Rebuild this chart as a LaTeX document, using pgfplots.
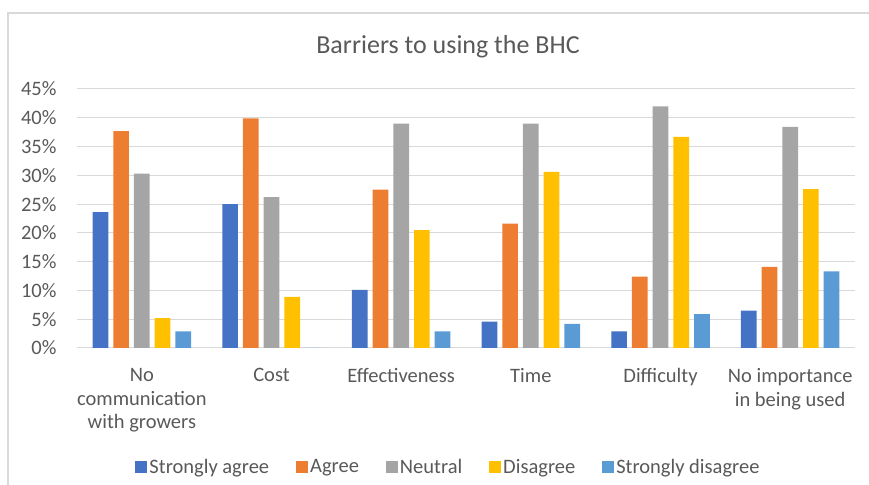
\documentclass[border=0pt]{standalone}
\usepackage{pgfplots}
\pgfplotsset{compat=1.18}
\usepackage{fontspec}
\setmainfont{Carlito}

\definecolor{sagree}{HTML}{4472C4}
\definecolor{agree}{HTML}{ED7D31}
\definecolor{neutral}{HTML}{A5A5A5}
\definecolor{disagree}{HTML}{FFC000}
\definecolor{sdisagree}{HTML}{5B9BD5}
\definecolor{txt}{HTML}{595959}
\definecolor{gridc}{HTML}{D9D9D9}

\begin{document}
\begin{tikzpicture}[x=1bp,y=1bp]
\useasboundingbox (0,0) rectangle (869,485);
\draw[gridc, line width=1.2bp] (8,-2) -- (8,472) -- (871,472);
\node[font=\fontsize{26bp}{30bp}\selectfont, text=txt] at (448,438) {Barriers to using the BHC};

\begin{axis}[
  at={(77bp,137bp)}, anchor=south west,
  width=778bp, height=259bp, scale only axis,
  xmin=-0.5, xmax=5.5, ymin=0, ymax=45,
  ybar=5bp, bar width=15.7bp,
  axis x line*=bottom, axis y line*=left,
  x axis line style={-, draw=gridc, line width=1bp},
  y axis line style={draw=none},
  ymajorgrids, grid style={draw=gridc, line width=1bp},
  major tick length=0pt,
  ytick={0,5,...,45},
  yticklabels={0\%,5\%,10\%,15\%,20\%,25\%,30\%,35\%,40\%,45\%},
  xtick={0,1,2,3,4,5},
  xticklabels={{No\\communication\\with growers},{Cost},{Effectiveness},{Time},{Difficulty},{No importance\\in being used}},
  tick label style={font=\fontsize{20.5bp}{23.5bp}\selectfont, text=txt},
  xticklabel style={align=center, yshift=-17bp},
  yticklabel style={xshift=-17bp},
  legend style={at={(0.4775,-0.4595)}, anchor=center, draw=none,
    font=\fontsize{20.5bp}{24bp}\selectfont, text=txt,
    /tikz/every even column/.append style={column sep=25bp}},
  legend columns=5,
  legend image code/.code={\fill[#1] (0bp,-6bp) rectangle (12bp,6bp);},
]
\addplot[fill=sagree, draw=none] coordinates {(0,23.6) (1,25.0) (2,10.1) (3,4.6) (4,2.9) (5,6.5)};
\addplot[fill=agree, draw=none] coordinates {(0,37.7) (1,39.9) (2,27.5) (3,21.6) (4,12.4) (5,14.1)};
\addplot[fill=neutral, draw=none] coordinates {(0,30.3) (1,26.2) (2,39.0) (3,39.0) (4,42.0) (5,38.4)};
\addplot[fill=disagree, draw=none] coordinates {(0,5.2) (1,8.9) (2,20.5) (3,30.6) (4,36.7) (5,27.6)};
\addplot[fill=sdisagree, draw=none] coordinates {(0,2.9) (1,0) (2,2.9) (3,4.2) (4,5.9) (5,13.3)};
\legend{Strongly agree, Agree, Neutral, Disagree, Strongly disagree}
\end{axis}
\end{tikzpicture}
\end{document}
